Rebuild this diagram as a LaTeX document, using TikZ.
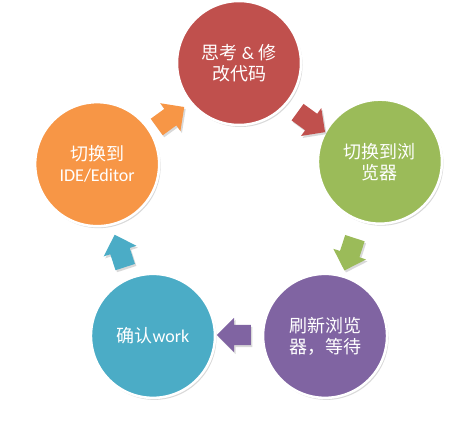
\documentclass[tikz,border=0pt]{standalone}
\usepackage{fontspec}
\setmainfont{Carlito}
\newfontfamily\cjk{Noto Sans CJK SC}
\usetikzlibrary{shapes.arrows,shadows}
\definecolor{thinkred}{HTML}{C0504D}
\definecolor{browsergreen}{HTML}{9BBB59}
\definecolor{reloadpurple}{HTML}{8064A2}
\definecolor{checkteal}{HTML}{4BACC6}
\definecolor{ideorange}{HTML}{F79646}
\begin{document}
\begin{tikzpicture}[x=1pt,y=1pt,
  stepcircle/.style={circle,minimum size=124pt,draw=white,line width=2.5pt,
    text=white,align=center,font=\fontsize{18}{21}\selectfont,
    drop shadow={opacity=0.3,shadow xshift=1.5pt,shadow yshift=-2pt}},
  blockarrow/.style={single arrow,minimum height=34pt,inner sep=10pt,
    single arrow head extend=7pt,
    drop shadow={opacity=0.3,shadow xshift=1.5pt,shadow yshift=-2pt}}]
\useasboundingbox (0,0) rectangle (464,432);
\begin{scope}[shift={(239,219)}]
% the five steps
\node [stepcircle,fill=thinkred] (think) at (90:150) {{\cjk 思考} \& {\cjk 修}\\{\cjk 改代码}};
\node [stepcircle,fill=browsergreen] (browser) at (20:150) {{\cjk 切换到浏}\\{\cjk 览器}};
\node [stepcircle,fill=reloadpurple] (reload) at (-55:150) {{\cjk 刷新浏览}\\{\cjk 器，等待}};
\node [stepcircle,fill=checkteal] (check) at (-125:150) {{\cjk 确认}work};
\node [stepcircle,fill=ideorange] (ide) at (161:150) {{\cjk 切换到}\\IDE/Editor};
% arrows between them
\node [blockarrow,fill=thinkred,rotate=-36] (toBrowser) at (54:116) {};
\node [blockarrow,fill=browsergreen,rotate=-108] (toReload) at (-18:118) {};
\node [blockarrow,fill=reloadpurple,rotate=180] (toCheck) at (-90:122) {};
\node [blockarrow,fill=checkteal,rotate=108] (toIde) at (-160:125) {};
\node [blockarrow,fill=ideorange,rotate=36] (toThink) at (128:118) {};
\end{scope}
\end{tikzpicture}
\end{document}
